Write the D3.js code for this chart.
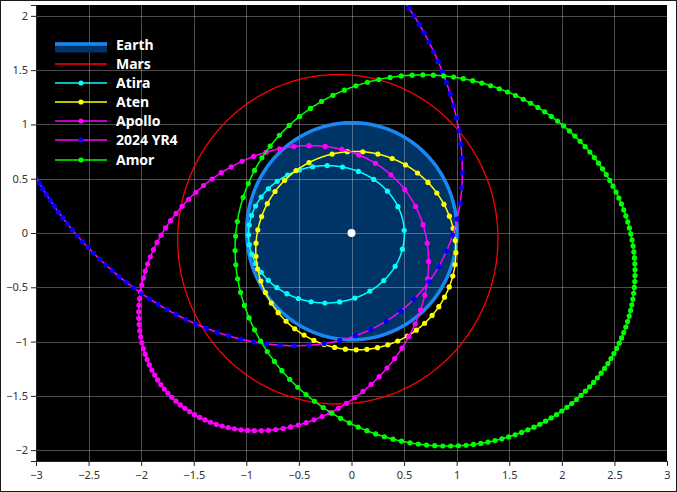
<!DOCTYPE html>
<html><head><meta charset="utf-8">
<script src="https://cdn.jsdelivr.net/npm/d3@7/dist/d3.min.js"></script>
<style>
html,body{margin:0;padding:0;background:#fff;}
svg{display:block;font-family:"Noto Sans","Open Sans",sans-serif;}
</style></head>
<body>
<svg id="chart" width="677" height="492"></svg>
<script>
// ---- data: orbital elements (AU, degrees) ----
const names   = ["Earth", "Mars", "Atira", "Aten", "Apollo", "2024 YR4", "Amor"];
const semiMajor = [1.00000, 1.52371, 0.7411, 0.9668, 1.4702, 2.5164, 1.9189];
const eccentricity = [0.01671, 0.09339, 0.3221, 0.1826, 0.5600, 0.6615, 0.4354];
const inclination = [0.00005, 1.850, 25.62, 18.93, 6.353, 3.408, 11.87];
const ascNode = [-11.26, 49.56, 103.88, 108.55, 35.57, 271.37, 171.32];
const argPeri = [114.21, 286.50, 252.93, 147.96, 286.02, 134.36, 26.70];
const markerStepDays = 7;
const xTicks = [-3, -2.5, -2, -1.5, -1, -0.5, 0, 0.5, 1, 1.5, 2, 2.5, 3];
const yTicks = [-2, -1.5, -1, -0.5, 0, 0.5, 1, 1.5, 2];

// ---- styles ----
const lineColor = {"Earth":"#1a88f2","Mars":"#ff0000","Atira":"#00ffff","Aten":"#ffff00","Apollo":"#ff00ff","2024 YR4":"#ff00ff","Amor":"#00ff00"};
const dotColor  = {"Atira":"#00ffff","Aten":"#ffff00","Apollo":"#ff00ff","2024 YR4":"#0000ff","Amor":"#00ff00"};

const svg = d3.select("#chart");
const W = 677, H = 492;
const L = 36, R = 667, T = 5, B = 461;
const x = d3.scaleLinear().domain([-3, 3]).range([L, R]);
const y = d3.scaleLinear().domain([-2.1, 2.1]).range([B, T]);

const rad = Math.PI / 180;
function orbitPoint(k, E) {
  const a = semiMajor[k], e = eccentricity[k];
  const xo = a * (Math.cos(E) - e), yo = a * Math.sqrt(1 - e * e) * Math.sin(E);
  const r = Math.hypot(xo, yo), nu = Math.atan2(yo, xo);
  const th = (ascNode[k] + argPeri[k]) * rad + nu;
  return [r * Math.cos(th), -r * Math.sin(th) * Math.cos(inclination[k] * rad)];
}
function keplerE(M, e) {
  let E = M;
  for (let n = 0; n < 50; n++) E = E - (E - e * Math.sin(E) - M) / (1 - e * Math.cos(E));
  return E;
}
function orbitLine(k) {
  const pts = [];
  for (let j = 0; j <= 1440; j++) pts.push(orbitPoint(k, j / 1440 * 2 * Math.PI));
  return pts;
}
function orbitDots(k) {
  const P = 365.25 * Math.pow(semiMajor[k], 1.5);
  const n = Math.floor(P / markerStepDays);
  const pts = [];
  for (let j = 0; j < n; j++) {
    const M = 2 * Math.PI * j * markerStepDays / P;
    pts.push(orbitPoint(k, keplerE(M, eccentricity[k])));
  }
  return pts;
}

// frame
svg.append("rect").attr("x", 0.5).attr("y", 0.5).attr("width", W - 1).attr("height", H - 1)
  .attr("fill", "#fff").attr("stroke", "#1a1a1a");

svg.append("defs").append("clipPath").attr("id", "clip")
  .append("rect").attr("x", L).attr("y", T).attr("width", R - L).attr("height", B - T);

svg.append("rect").attr("x", L).attr("y", T).attr("width", R - L).attr("height", B - T).attr("fill", "#000");

const plotG = svg.append("g").attr("clip-path", "url(#clip)");
const line = d3.line().x(d => x(d[0])).y(d => y(d[1]));

// Earth filled disc
const earthIdx = names.indexOf("Earth");
plotG.append("path").attr("d", line(orbitLine(earthIdx)) + "Z")
  .attr("fill", "#003366").attr("stroke", "none");

// grid
const grid = svg.append("g").attr("clip-path", "url(#clip)");
grid.selectAll("line.v").data(xTicks.filter(t => t > -3 && t < 3)).join("line")
  .attr("x1", d => Math.round(x(d)) + 0.5).attr("x2", d => Math.round(x(d)) + 0.5)
  .attr("y1", T).attr("y2", B).attr("stroke", "rgba(255,255,255,0.3)").attr("stroke-width", 1);
grid.selectAll("line.h").data(yTicks).join("line")
  .attr("y1", d => Math.round(y(d)) + 0.5).attr("y2", d => Math.round(y(d)) + 0.5)
  .attr("x1", L).attr("x2", R).attr("stroke", "rgba(255,255,255,0.3)").attr("stroke-width", 1);

const orbG = svg.append("g").attr("clip-path", "url(#clip)");
// Earth outline
orbG.append("path").attr("d", line(orbitLine(earthIdx)) + "Z")
  .attr("fill", "none").attr("stroke", lineColor["Earth"]).attr("stroke-width", 3.5);

// orbits
names.forEach((nm, k) => {
  if (nm === "Earth") return;
  orbG.append("path").attr("d", line(orbitLine(k)) + "Z")
    .attr("fill", "none").attr("stroke", lineColor[nm]).attr("stroke-width", nm === "Mars" ? 1.3 : 1.5);
  if (dotColor[nm]) {
    orbG.append("g").selectAll("circle").data(orbitDots(k)).join("circle")
      .attr("cx", d => x(d[0])).attr("cy", d => y(d[1])).attr("r", 2.6)
      .attr("fill", dotColor[nm]);
  }
});

// sun
orbG.append("circle").attr("cx", x(0)).attr("cy", y(0)).attr("r", 4).attr("fill", "#fff");

// axes
const fmt = d3.format("");
const xAxis = svg.append("g").attr("transform", `translate(0,${B})`)
  .call(d3.axisBottom(x).tickValues(xTicks).tickFormat(fmt).tickSizeOuter(0).tickSize(5));
const yAxis = svg.append("g").attr("transform", `translate(${L},0)`)
  .call(d3.axisLeft(y).tickValues(yTicks).tickFormat(fmt).tickSizeOuter(0).tickSize(5));
[xAxis, yAxis].forEach(g => {
  g.select(".domain").attr("stroke", "#222");
  g.selectAll(".tick line").attr("stroke", "#222");
  g.selectAll(".tick text").attr("fill", "#333").attr("font-size", 11)
    .attr("font-family", "'Noto Sans', sans-serif");
});
xAxis.selectAll(".tick text").attr("dy", "0.95em");

// legend
const legend = svg.append("g");
const lx0 = 55, lx1 = 107, ltx = 116;
const rowY = [47, 64, 83, 102, 121, 140, 160];
names.forEach((nm, k) => {
  const ry = rowY[k];
  if (nm === "Earth") {
    legend.append("rect").attr("x", lx0).attr("y", ry - 4.5).attr("width", lx1 - lx0).attr("height", 10).attr("fill", "#003366");
    legend.append("line").attr("x1", lx0).attr("x2", lx1).attr("y1", ry - 3).attr("y2", ry - 3)
      .attr("stroke", lineColor[nm]).attr("stroke-width", 3.5);
  } else {
    legend.append("line").attr("x1", lx0).attr("x2", lx1).attr("y1", ry).attr("y2", ry)
      .attr("stroke", lineColor[nm]).attr("stroke-width", 1.3);
    if (dotColor[nm]) legend.append("circle").attr("cx", (lx0 + lx1) / 2).attr("cy", ry).attr("r", 2.6).attr("fill", dotColor[nm]);
  }
  legend.append("text").attr("x", ltx).attr("y", nm === "Earth" ? ry - 1.5 : ry).attr("dy", "0.35em")
    .attr("fill", "#fff").attr("font-weight", "bold").attr("font-size", 14)
    .attr("font-family", "'Noto Sans', sans-serif").text(nm);
});
</script>
</body></html>
